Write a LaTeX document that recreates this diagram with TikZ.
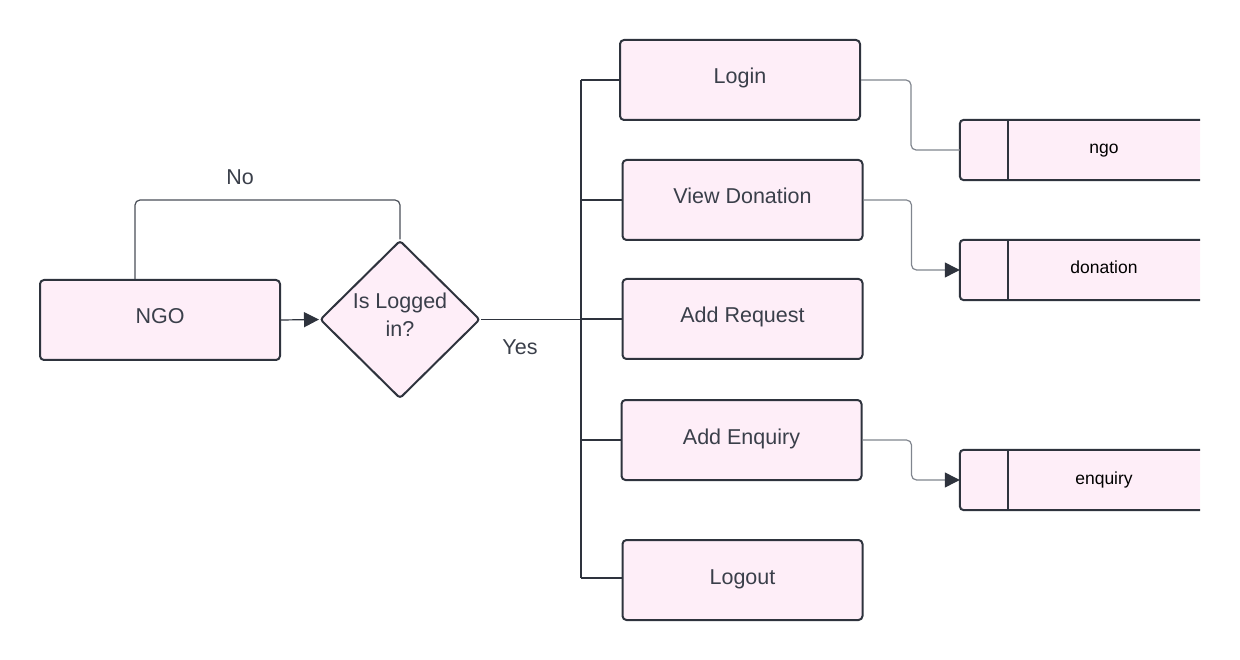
\documentclass[tikz,border=0pt]{standalone}
\usepackage{fontspec}
\setmainfont{Liberation Sans}
\usetikzlibrary{shapes.geometric,arrows.meta,backgrounds}
\definecolor{boxfill}{HTML}{FEEEF8}
\definecolor{boxline}{HTML}{2E333D}
\definecolor{txt}{HTML}{3A3F4A}
\definecolor{thinc}{HTML}{80858E}
\definecolor{loopc}{HTML}{4A4F58}
\begin{document}
\begin{tikzpicture}[x=1pt,y=-1pt,
  proc/.style={draw=boxline, fill=boxfill, line width=2pt, rounded corners=4pt,
    minimum width=240pt, minimum height=80pt, inner sep=0pt, text=txt,
    text height=15pt, text depth=7pt,
    font=\fontsize{21.5}{26}\selectfont},
  decision/.style={diamond, draw=boxline, fill=boxfill, line width=2pt, rounded corners=3pt,
    minimum width=160pt, minimum height=158pt, inner sep=0pt, text=txt,
    text height=23pt, text depth=17pt,
    font=\fontsize{21.5}{27}\selectfont},
  store/.style={minimum width=192pt, minimum height=60pt, inner sep=0pt, text=black,
    text height=12pt, text depth=4pt,
    font=\fontsize{17.5}{21}\selectfont},
  storeshape/.style={fill=boxfill, draw=boxline, line width=2pt, rounded corners=4pt},
  branch/.style={draw=boxline, line width=2pt},
  thinline/.style={draw=thinc, line width=1.2pt, rounded corners=5pt},
  loopline/.style={draw=loopc, line width=1.2pt, rounded corners=5pt},
  tip/.style={-{Triangle[length=15pt,width=15pt,fill=boxline,color=boxline]}},
  lbl/.style={text=txt, font=\fontsize{21.5}{26}\selectfont, inner sep=0pt}
]
\useasboundingbox (0,0) rectangle (1240,660);

% main nodes
\node[proc] (ngoA) at (160,320) {NGO};
\node[decision] (logged) at (400,319.5) {\begin{tabular}{@{}c@{}}Is Logged\\[1.5pt]in?\end{tabular}};
\node[proc] (login) at (740,80) {Login};
\node[proc] (view) at (742.5,200) {View Donation};
\node[proc] (req) at (742.5,319) {Add Request};
\node[proc] (enq) at (741.5,440) {Add Enquiry};
\node[proc] (logout) at (742.5,580) {Logout};

% data stores
\node[store] (sNgo) at (1104,150) {ngo};
\node[store] (sDon) at (1104,270) {donation};
\node[store] (sEnq) at (1104,480) {enquiry};
\coordinate (sNgoIn) at ([xshift=-48pt]sNgo.west);
\coordinate (sDonIn) at ([xshift=-48pt]sDon.west);
\coordinate (sEnqIn) at ([xshift=-48pt]sEnq.west);

\begin{scope}[on background layer]
  \foreach \s in {sNgo,sDon,sEnq}{
    \path[storeshape] (\s.north east) -- ([xshift=-48pt]\s.north west)
      -- ([xshift=-48pt]\s.south west) -- (\s.south east);
    \draw[branch] (\s.north west) -- (\s.south west);
  }
\end{scope}

% NGO -> decision
\draw[line width=1.2pt, draw=boxline, tip] (ngoA.east) -- (logged.west);

% No loop
\draw[loopline] ([xshift=-25pt]ngoA.north) -- ++(0,-79) -| (logged.north);
\node[lbl] (noL) at (240,177) {No};

% trunk
\coordinate (trunkTop) at (581,80);
\coordinate (trunkBot) at (581,578);
\draw[branch] (trunkTop) -- (trunkBot);
\draw[line width=1.2pt, draw=boxline] (logged.east) -- (logged.east -| trunkTop);
\node[lbl] (yesL) at (520,347) {Yes};

\draw[branch] (trunkTop) -- (login.west);
\draw[branch] (view.west -| trunkTop) -- (view.west);
\draw[branch] (req.west -| trunkTop) -- (req.west);
\draw[branch] (enq.west -| trunkTop) -- (enq.west);
\draw[branch] (trunkBot) -- (trunkBot -| logout.west);

% to data stores
\draw[thinline] (login.east) -- ++(50,0) |- (sNgoIn);
\draw[thinline, tip] (view.east) -- ++(48,0) |- (sDonIn);
\draw[thinline, tip] (enq.east) -- ++(49,0) |- (sEnqIn);
\end{tikzpicture}
\end{document}
